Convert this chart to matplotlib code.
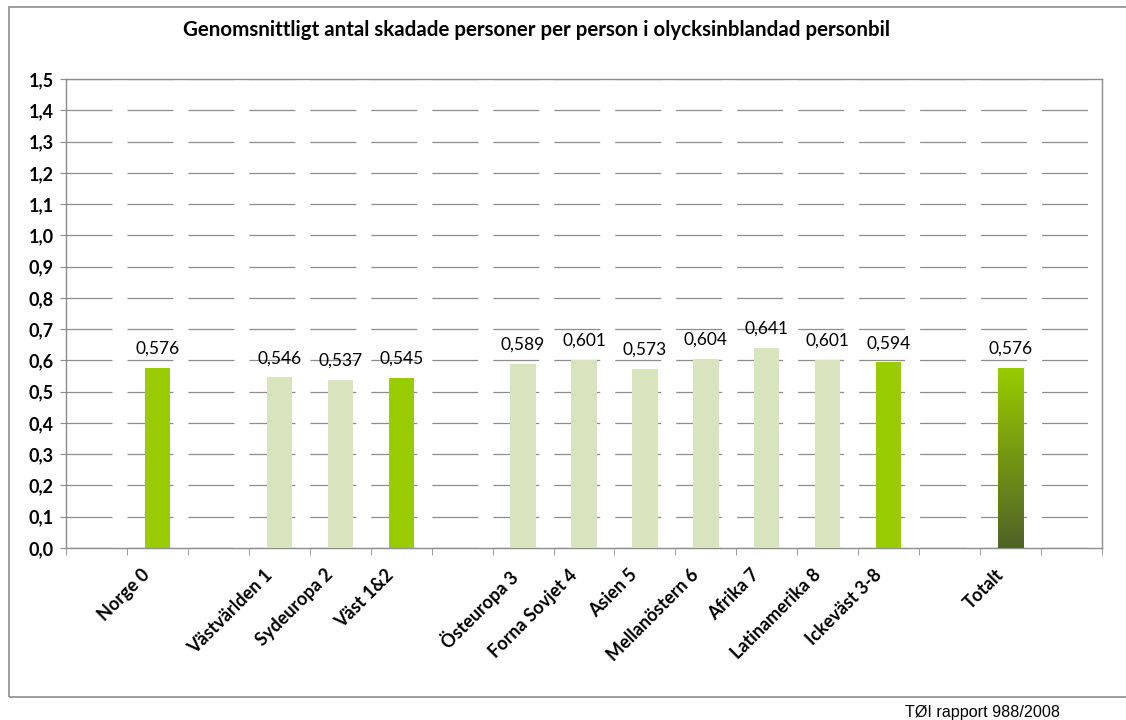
import matplotlib
matplotlib.use("Agg")
import matplotlib.pyplot as plt
import matplotlib.transforms as mtransforms
import numpy as np
from matplotlib.patches import Rectangle

# categories incl. empty slots as in the original sheet
categories = ["", "Norge 0", "", "Västvärlden 1", "Sydeuropa 2", "Väst 1&2", "",
              "Östeuropa 3", "Forna Sovjet 4", "Asien 5", "Mellanöstern 6",
              "Afrika 7", "Latinamerika 8", "Ickeväst 3-8", "", "Totalt", ""]
values = [None, 0.576, None, 0.546, 0.537, 0.545, None,
          0.589, 0.601, 0.573, 0.604, 0.641, 0.601, 0.594, None, 0.576, None]
kind = ["", "main", "", "sub", "sub", "main", "",
        "sub", "sub", "sub", "sub", "sub", "sub", "main", "", "total", ""]
yticks = np.arange(0, 1.51, 0.1)

title = "Genomsnittligt antal skadade personer per person i olycksinblandad personbil"
source = "TØI rapport 988/2008"

c_main = "#99CC00"
c_sub = "#D7E4BD"
c_top = "#99CC00"
c_bot = "#4F6228"

plt.rcParams["font.family"] = ["Lato", "DejaVu Sans"]
plt.rcParams["lines.scale_dashes"] = False

W, H = 1126, 720
fig = plt.figure(figsize=(W / 100, H / 100), dpi=100)
ax = fig.add_axes([66 / W, (H - 548) / H, (1102 - 66) / W, (548 - 79) / H])

x = np.arange(len(categories))
bw = 0.415
for xi, v, k in zip(x, values, kind):
    if v is None:
        continue
    if k == "total":
        # gradient bar: bright green at the top, dark olive at the bottom
        grad = np.linspace(0, 1, 256).reshape(-1, 1)
        cmap = matplotlib.colors.LinearSegmentedColormap.from_list("g", [c_bot, c_top])
        im = ax.imshow(grad, cmap=cmap, aspect="auto", origin="lower",
                       extent=[xi - bw / 2, xi + bw / 2, 0, v], zorder=3)
        r = Rectangle((xi - bw / 2, 0), bw, v, transform=ax.transData, fc="none", ec="none")
        ax.add_patch(r)
        im.set_clip_path(r)
    else:
        ax.bar(xi, v, width=bw, color=c_main if k == "main" else c_sub, zorder=3)
    ax.annotate(f"{v:.3f}".replace(".", ","), (xi, v), xytext=(0, 8),
                textcoords="offset points", ha="center", va="bottom",
                fontsize=12.5, zorder=4)

ax.set_xlim(-0.5, len(categories) - 0.5)
ax.set_ylim(0, 1.5)

ax.set_yticks(yticks)
ax.set_yticklabels([f"{t:.1f}".replace(".", ",") for t in yticks],
                   fontsize=13, fontweight="bold")
ax.yaxis.grid(True, color="#8c8c8c", lw=0.9, linestyle=(0, (33.1, 10.8)))
ax.set_axisbelow(True)
ax.tick_params(axis="y", length=4, color="#8c8c8c", pad=5)

ax.set_xticks(x)
ax.set_xticklabels(categories, rotation=45, ha="right", va="top",
                   rotation_mode="anchor", fontsize=13, fontweight="bold")
ax.tick_params(axis="x", which="major", length=0, pad=13)
shift = mtransforms.ScaledTranslation(-16 / 100, 0, fig.dpi_scale_trans)
for lab in ax.get_xticklabels():
    lab.set_transform(lab.get_transform() + shift)
ax.set_xticks(np.arange(-0.5, len(categories)), minor=True)
ax.tick_params(axis="x", which="minor", length=5, color="#8c8c8c")

for s in ax.spines.values():
    s.set_color("#8c8c8c")
    s.set_linewidth(1.0)

fig.text(0.5 * (183 + 890) / W, 1 - 30 / H, title, ha="center", va="center",
         fontsize=14.8, fontweight="bold")

# outer chart frame (its right edge runs off the image)
fig.add_artist(Rectangle((9 / W, (H - 697) / H), (1140 - 9) / W, (697 - 7) / H,
                         transform=fig.transFigure, fill=False, ec="#8c8c8c", lw=1.2))
fig.text(1060 / W, 1 - 712 / H, source, ha="right", va="center",
         fontsize=11.6, family="Liberation Sans")

fig.savefig("out.png", dpi=100)
